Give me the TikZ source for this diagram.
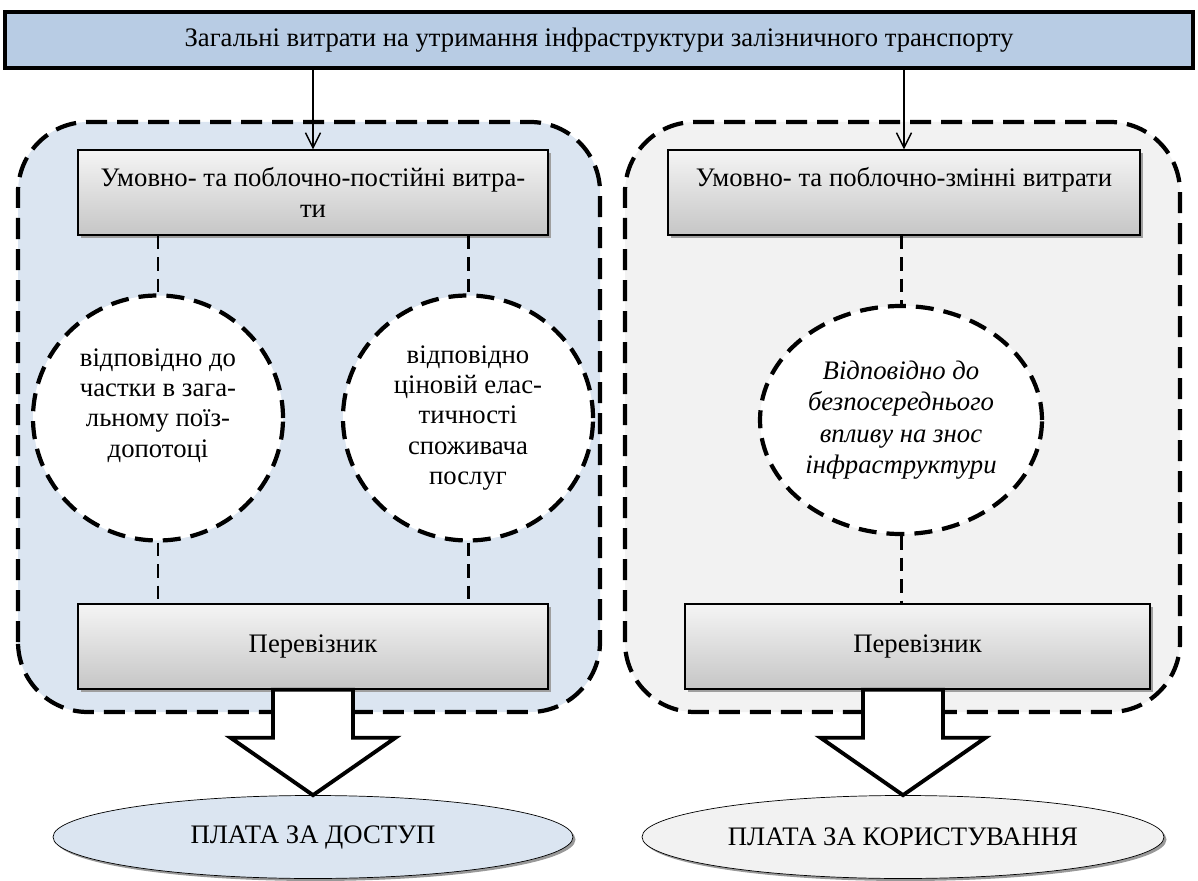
\documentclass[tikz,border=0pt]{standalone}
\usepackage{fontspec}
\setmainfont{Liberation Serif}
\usetikzlibrary{positioning,calc,shadows,shapes.geometric,arrows.meta}

\definecolor{barblue}{RGB}{184,204,228}
\definecolor{panelblue}{RGB}{219,229,241}
\definecolor{panelgray}{RGB}{242,242,242}

\tikzset{
	panel/.style={draw=black, line width=2.4pt, dash pattern=on 0.42cm off 0.2cm, rounded corners=1.4cm},
	topbar/.style={draw=black, line width=2.4pt, fill=barblue, minimum width=23.76cm, minimum height=1.12cm, inner sep=0pt},
	costbox/.style={draw=black, thick, top color=gray!8, bottom color=gray!45, minimum height=1.7cm, align=center,
		drop shadow={shadow xshift=0.06cm, shadow yshift=-0.06cm, fill=gray!75, opacity=1}},
	share/.style={ellipse, draw=black, fill=white, line width=2.4pt, dash pattern=on 0.36cm off 0.2cm, align=center, inner sep=0pt},
	link/.style={draw=black, line width=1.7pt, dash pattern=on 0.27cm off 0.16cm},
	feed/.style={-{Straight Barb[length=0.3cm, width=0.3cm]}, line width=0.8pt},
	bigarrow/.style={draw=black, fill=white, line width=2.2pt, line join=miter},
	pay/.style={ellipse, draw=black, minimum width=10.4cm, minimum height=1.66cm, inner sep=0pt,
		drop shadow={shadow xshift=0.05cm, shadow yshift=-0.05cm, fill=gray!80, opacity=1}}
}

\begin{document}
\begin{tikzpicture}[font=\fontsize{15.2}{17.3}\selectfont]
	\useasboundingbox (0,0) rectangle (23.96,17.6);
	
	% panels
	\draw [panel, fill=panelblue] (0.36, 3.36) rectangle (12.0, 15.16);
	\draw [panel, fill=panelgray] (12.5, 3.36) rectangle (23.6, 15.16);
	
	% top
	\node [topbar] (total) at (11.98, 16.8) {Загальні витрати на утримання інфраструктури залізничного транспорту};
	
	% left panel
	\node [costbox, minimum width=9.4cm] (fixL) at (6.26, 13.75) {Умовно- та поблочно-постійні витра-\\ти};
	\node [share, minimum width=5cm, minimum height=4.9cm] (shareA) at (3.16, 9.24) {відповідно до\\частки в зага-\\льному поїз-\\допотоці\\\mbox{}};
	\node [share, minimum width=5cm, minimum height=4.9cm] (shareB) at (9.36, 9.24) {відповідно\\ціновій елас-\\тичності\\споживача\\послуг};
	\node [costbox, minimum width=9.4cm] (carL) at (6.26, 4.67) {Перевізник};
	
	% right panel
	\node [costbox, minimum width=9.44cm] (varR) at (18.08, 13.75) {Умовно- та поблочно-змінні витрати\\\mbox{}};
	\node [share, minimum width=5.64cm, minimum height=4.56cm, font=\fontsize{15.2}{17.8}\selectfont\itshape] (wear) at (18.02, 9.2) {Відповідно до\\безпосереднього\\впливу на знос\\інфраструктури};
	\node [costbox, minimum width=9.3cm] (carR) at (18.35, 4.67) {Перевізник};
	
	% payments
	\node [pay, fill=panelblue] (payL) at (6.26, 0.86) {ПЛАТА ЗА ДОСТУП};
	\node [pay, fill=panelgray, minimum width=10.44cm] (payR) at (18.06, 0.86) {ПЛАТА ЗА КОРИСТУВАННЯ};
	
	% arrows from the top
	\draw [feed] (total.south -| fixL.north) -- (fixL.north);
	\draw [feed] (total.south -| varR.north) -- (varR.north);
	
	% dashed links
	\draw [link] (fixL.south -| shareA.north) -- (shareA.north);
	\draw [link] (fixL.south -| shareB.north) -- (shareB.north);
	\draw [link] (shareA.south) -- (shareA.south |- carL.north);
	\draw [link] (shareB.south) -- (shareB.south |- carL.north);
	\draw [link] (varR.south -| wear.north) -- (wear.north);
	\draw [link] (wear.south) -- (wear.south |- carR.north);
	
	% block arrows
	\coordinate (topL) at (carL.south -| payL.north);
	\coordinate (topR) at (carR.south -| payR.north);
	\draw [bigarrow] ($(topL)+(-0.8,0)$) -- ++(0,-0.96) -- ++(-0.85,0) -- (payL.north) -- ($(topL)+(1.65,-0.96)$) -- ++(-0.85,0) -- ($(topL)+(0.8,0)$) -- cycle;
	\draw [bigarrow] ($(topR)+(-0.8,0)$) -- ++(0,-0.96) -- ++(-0.85,0) -- (payR.north) -- ($(topR)+(1.65,-0.96)$) -- ++(-0.85,0) -- ($(topR)+(0.8,0)$) -- cycle;
\end{tikzpicture}
\end{document}
